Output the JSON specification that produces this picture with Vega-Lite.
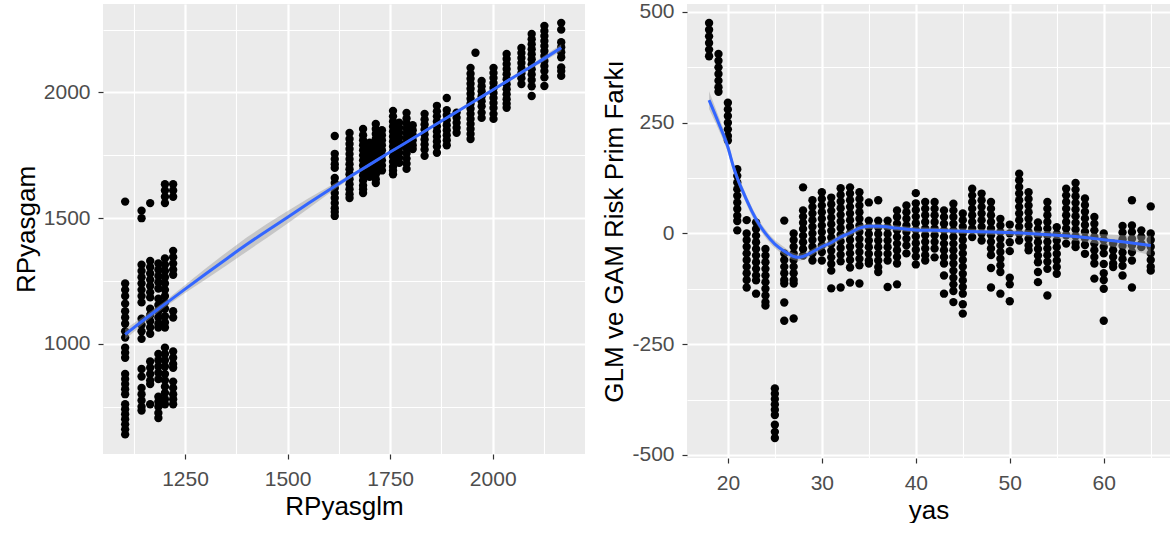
{
  "$schema": "https://vega.github.io/schema/vega-lite/v6.json",
  "padding": {"left": 13, "top": 0, "right": 0, "bottom": 0},
  "spacing": 16,
  "datasets": {
    "glmgam": [
      {"glm":1104,"gam":1566},{"glm":1104,"gam":1240},{"glm":1104,"gam":1215},{"glm":1104,"gam":1190},{"glm":1104,"gam":1160},{"glm":1104,"gam":1130},{"glm":1104,"gam":1105},{"glm":1104,"gam":1080},{"glm":1104,"gam":1050},{"glm":1104,"gam":1025},{"glm":1104,"gam":985},{"glm":1104,"gam":965},{"glm":1104,"gam":945},{"glm":1104,"gam":880},{"glm":1104,"gam":860},{"glm":1104,"gam":840},{"glm":1104,"gam":820},{"glm":1104,"gam":800},{"glm":1104,"gam":760},{"glm":1104,"gam":740},{"glm":1104,"gam":720},{"glm":1104,"gam":700},{"glm":1104,"gam":680},{"glm":1104,"gam":660},{"glm":1104,"gam":640},
      {"glm":1144,"gam":1530},{"glm":1144,"gam":1500},{"glm":1144,"gam":1315},{"glm":1144,"gam":1290},{"glm":1144,"gam":1265},{"glm":1144,"gam":1240},{"glm":1144,"gam":1215},{"glm":1144,"gam":1190},{"glm":1144,"gam":1165},{"glm":1144,"gam":1100},{"glm":1144,"gam":1075},{"glm":1144,"gam":1050},{"glm":1144,"gam":1020},{"glm":1144,"gam":900},{"glm":1144,"gam":870},{"glm":1144,"gam":825},{"glm":1144,"gam":800},{"glm":1144,"gam":775},{"glm":1144,"gam":750},{"glm":1144,"gam":735},
      {"glm":1165,"gam":1560},{"glm":1165,"gam":1330},{"glm":1165,"gam":1305},{"glm":1165,"gam":1280},{"glm":1165,"gam":1255},{"glm":1165,"gam":1230},{"glm":1165,"gam":1205},{"glm":1165,"gam":1185},{"glm":1165,"gam":1140},{"glm":1165,"gam":1115},{"glm":1165,"gam":1090},{"glm":1165,"gam":1065},{"glm":1165,"gam":1040},{"glm":1165,"gam":930},{"glm":1165,"gam":905},{"glm":1165,"gam":880},{"glm":1165,"gam":855},{"glm":1165,"gam":840},{"glm":1165,"gam":760},
      {"glm":1185,"gam":1320},{"glm":1185,"gam":1295},{"glm":1185,"gam":1270},{"glm":1185,"gam":1245},{"glm":1185,"gam":1220},{"glm":1185,"gam":1180},{"glm":1185,"gam":1155},{"glm":1185,"gam":1130},{"glm":1185,"gam":1105},{"glm":1185,"gam":1080},{"glm":1185,"gam":1065},{"glm":1185,"gam":960},{"glm":1185,"gam":935},{"glm":1185,"gam":910},{"glm":1185,"gam":885},{"glm":1185,"gam":860},{"glm":1185,"gam":790},{"glm":1185,"gam":770},{"glm":1185,"gam":750},{"glm":1185,"gam":725},{"glm":1185,"gam":705},
      {"glm":1201,"gam":1635},{"glm":1201,"gam":1610},{"glm":1201,"gam":1585},{"glm":1201,"gam":1560},{"glm":1201,"gam":1340},{"glm":1201,"gam":1315},{"glm":1201,"gam":1290},{"glm":1201,"gam":1265},{"glm":1201,"gam":1240},{"glm":1201,"gam":1215},{"glm":1201,"gam":1190},{"glm":1201,"gam":1165},{"glm":1201,"gam":1140},{"glm":1201,"gam":1110},{"glm":1201,"gam":1085},{"glm":1201,"gam":1065},{"glm":1201,"gam":985},{"glm":1201,"gam":960},{"glm":1201,"gam":935},{"glm":1201,"gam":910},{"glm":1201,"gam":880},{"glm":1201,"gam":855},{"glm":1201,"gam":830},{"glm":1201,"gam":805},{"glm":1201,"gam":780},{"glm":1201,"gam":760},
      {"glm":1221,"gam":1635},{"glm":1221,"gam":1610},{"glm":1221,"gam":1585},{"glm":1221,"gam":1370},{"glm":1221,"gam":1345},{"glm":1221,"gam":1320},{"glm":1221,"gam":1295},{"glm":1221,"gam":1275},{"glm":1221,"gam":1130},{"glm":1221,"gam":1105},{"glm":1221,"gam":970},{"glm":1221,"gam":945},{"glm":1221,"gam":920},{"glm":1221,"gam":905},{"glm":1221,"gam":850},{"glm":1221,"gam":825},{"glm":1221,"gam":800},{"glm":1221,"gam":780},{"glm":1221,"gam":760},
      {"glm":1615,"gam":1827},{"glm":1615,"gam":1756},{"glm":1615,"gam":1735},{"glm":1615,"gam":1715},{"glm":1615,"gam":1700},{"glm":1615,"gam":1660},{"glm":1615,"gam":1640},{"glm":1615,"gam":1620},{"glm":1615,"gam":1600},{"glm":1615,"gam":1580},{"glm":1615,"gam":1560},{"glm":1615,"gam":1540},{"glm":1615,"gam":1525},{"glm":1615,"gam":1509},
      {"glm":1651,"gam":1839},{"glm":1651,"gam":1815},{"glm":1651,"gam":1795},{"glm":1651,"gam":1775},{"glm":1651,"gam":1755},{"glm":1651,"gam":1735},{"glm":1651,"gam":1715},{"glm":1651,"gam":1695},{"glm":1651,"gam":1675},{"glm":1651,"gam":1655},{"glm":1651,"gam":1635},{"glm":1651,"gam":1615},{"glm":1651,"gam":1595},{"glm":1651,"gam":1580},
      {"glm":1684,"gam":1855},{"glm":1684,"gam":1830},{"glm":1684,"gam":1810},{"glm":1684,"gam":1790},{"glm":1684,"gam":1770},{"glm":1684,"gam":1750},{"glm":1684,"gam":1730},{"glm":1684,"gam":1710},{"glm":1684,"gam":1690},{"glm":1684,"gam":1670},{"glm":1684,"gam":1650},{"glm":1684,"gam":1630},{"glm":1684,"gam":1615},{"glm":1684,"gam":1600},
      {"glm":1700,"gam":1800},{"glm":1700,"gam":1780},{"glm":1700,"gam":1760},{"glm":1700,"gam":1740},{"glm":1700,"gam":1720},{"glm":1700,"gam":1700},{"glm":1700,"gam":1680},{"glm":1700,"gam":1665},
      {"glm":1715,"gam":1875},{"glm":1715,"gam":1855},{"glm":1715,"gam":1835},{"glm":1715,"gam":1815},{"glm":1715,"gam":1795},{"glm":1715,"gam":1775},{"glm":1715,"gam":1755},{"glm":1715,"gam":1735},{"glm":1715,"gam":1715},{"glm":1715,"gam":1695},{"glm":1715,"gam":1675},{"glm":1715,"gam":1655},{"glm":1715,"gam":1640},
      {"glm":1730,"gam":1850},{"glm":1730,"gam":1830},{"glm":1730,"gam":1810},{"glm":1730,"gam":1790},{"glm":1730,"gam":1770},{"glm":1730,"gam":1750},{"glm":1730,"gam":1730},{"glm":1730,"gam":1710},{"glm":1730,"gam":1690},
      {"glm":1757,"gam":1927},{"glm":1757,"gam":1905},{"glm":1757,"gam":1885},{"glm":1757,"gam":1865},{"glm":1757,"gam":1845},{"glm":1757,"gam":1825},{"glm":1757,"gam":1805},{"glm":1757,"gam":1785},{"glm":1757,"gam":1765},{"glm":1757,"gam":1745},{"glm":1757,"gam":1725},{"glm":1757,"gam":1705},{"glm":1757,"gam":1690},{"glm":1757,"gam":1675},
      {"glm":1772,"gam":1880},{"glm":1772,"gam":1860},{"glm":1772,"gam":1840},{"glm":1772,"gam":1820},{"glm":1772,"gam":1800},{"glm":1772,"gam":1780},{"glm":1772,"gam":1760},{"glm":1772,"gam":1740},{"glm":1772,"gam":1720},
      {"glm":1790,"gam":1919},{"glm":1790,"gam":1897},{"glm":1790,"gam":1877},{"glm":1790,"gam":1857},{"glm":1790,"gam":1837},{"glm":1790,"gam":1817},{"glm":1790,"gam":1797},{"glm":1790,"gam":1777},{"glm":1790,"gam":1757},{"glm":1790,"gam":1737},{"glm":1790,"gam":1717},{"glm":1790,"gam":1696},
      {"glm":1805,"gam":1870},{"glm":1805,"gam":1850},{"glm":1805,"gam":1830},{"glm":1805,"gam":1810},{"glm":1805,"gam":1790},{"glm":1805,"gam":1775},
      {"glm":1834,"gam":1915},{"glm":1834,"gam":1893},{"glm":1834,"gam":1873},{"glm":1834,"gam":1853},{"glm":1834,"gam":1833},{"glm":1834,"gam":1813},{"glm":1834,"gam":1793},{"glm":1834,"gam":1773},{"glm":1834,"gam":1748},
      {"glm":1864,"gam":1947},{"glm":1864,"gam":1925},{"glm":1864,"gam":1905},{"glm":1864,"gam":1885},{"glm":1864,"gam":1865},{"glm":1864,"gam":1845},{"glm":1864,"gam":1825},{"glm":1864,"gam":1805},{"glm":1864,"gam":1785},{"glm":1864,"gam":1760},
      {"glm":1888,"gam":1978},{"glm":1888,"gam":1930},{"glm":1888,"gam":1910},{"glm":1888,"gam":1890},{"glm":1888,"gam":1870},{"glm":1888,"gam":1850},{"glm":1888,"gam":1830},{"glm":1888,"gam":1810},{"glm":1888,"gam":1790},
      {"glm":1912,"gam":1920},{"glm":1912,"gam":1900},{"glm":1912,"gam":1880},{"glm":1912,"gam":1860},{"glm":1912,"gam":1840},
      {"glm":1946,"gam":2098},{"glm":1946,"gam":2075},{"glm":1946,"gam":2055},{"glm":1946,"gam":2035},{"glm":1946,"gam":2015},{"glm":1946,"gam":1995},{"glm":1946,"gam":1975},{"glm":1946,"gam":1955},{"glm":1946,"gam":1935},{"glm":1946,"gam":1915},{"glm":1946,"gam":1895},{"glm":1946,"gam":1875},{"glm":1946,"gam":1855},{"glm":1946,"gam":1835},{"glm":1946,"gam":1815},
      {"glm":1958,"gam":2158},
      {"glm":1973,"gam":2046},{"glm":1973,"gam":2025},{"glm":1973,"gam":2005},{"glm":1973,"gam":1985},{"glm":1973,"gam":1965},{"glm":1973,"gam":1945},{"glm":1973,"gam":1920},{"glm":1973,"gam":1899},
      {"glm":2002,"gam":2098},{"glm":2002,"gam":2078},{"glm":2002,"gam":2058},{"glm":2002,"gam":2038},{"glm":2002,"gam":2018},{"glm":2002,"gam":1998},{"glm":2002,"gam":1978},{"glm":2002,"gam":1958},{"glm":2002,"gam":1938},{"glm":2002,"gam":1915},{"glm":2002,"gam":1895},
      {"glm":2034,"gam":2153},{"glm":2034,"gam":2133},{"glm":2034,"gam":2113},{"glm":2034,"gam":2093},{"glm":2034,"gam":2073},{"glm":2034,"gam":2053},{"glm":2034,"gam":2033},{"glm":2034,"gam":2013},{"glm":2034,"gam":1993},{"glm":2034,"gam":1973},{"glm":2034,"gam":1955},{"glm":2034,"gam":1939},
      {"glm":2070,"gam":2177},{"glm":2070,"gam":2157},{"glm":2070,"gam":2137},{"glm":2070,"gam":2117},{"glm":2070,"gam":2097},{"glm":2070,"gam":2077},{"glm":2070,"gam":2057},{"glm":2070,"gam":2034},
      {"glm":2095,"gam":2233},{"glm":2095,"gam":2212},{"glm":2095,"gam":2192},{"glm":2095,"gam":2172},{"glm":2095,"gam":2152},{"glm":2095,"gam":2132},{"glm":2095,"gam":2112},{"glm":2095,"gam":2092},{"glm":2095,"gam":2072},{"glm":2095,"gam":2050},{"glm":2095,"gam":2025},{"glm":2095,"gam":1986},
      {"glm":2126,"gam":2265},{"glm":2126,"gam":2245},{"glm":2126,"gam":2225},{"glm":2126,"gam":2205},{"glm":2126,"gam":2185},{"glm":2126,"gam":2165},{"glm":2126,"gam":2145},{"glm":2126,"gam":2125},{"glm":2126,"gam":2105},{"glm":2126,"gam":2085},{"glm":2126,"gam":2060},{"glm":2126,"gam":2026},
      {"glm":2167,"gam":2277},{"glm":2167,"gam":2250},{"glm":2167,"gam":2200},{"glm":2167,"gam":2180},{"glm":2167,"gam":2160},{"glm":2167,"gam":2140},{"glm":2167,"gam":2100},{"glm":2167,"gam":2085},{"glm":2167,"gam":2066}
    ],
    "glmgamFit": [
      {"glm":1104,"gam":1038,"lo":1018,"hi":1058},
      {"glm":1150,"gam":1096,"lo":1081,"hi":1111},
      {"glm":1200,"gam":1157,"lo":1145,"hi":1169},
      {"glm":1250,"gam":1218,"lo":1202,"hi":1234},
      {"glm":1300,"gam":1278,"lo":1256,"hi":1300},
      {"glm":1350,"gam":1337,"lo":1311,"hi":1363},
      {"glm":1400,"gam":1395,"lo":1367,"hi":1423},
      {"glm":1450,"gam":1450,"lo":1422,"hi":1478},
      {"glm":1500,"gam":1504,"lo":1479,"hi":1529},
      {"glm":1550,"gam":1558,"lo":1538,"hi":1578},
      {"glm":1600,"gam":1611,"lo":1597,"hi":1625},
      {"glm":1650,"gam":1663,"lo":1655,"hi":1671},
      {"glm":1700,"gam":1713,"lo":1707,"hi":1719},
      {"glm":1750,"gam":1763,"lo":1758,"hi":1768},
      {"glm":1800,"gam":1812,"lo":1807,"hi":1817},
      {"glm":1850,"gam":1862,"lo":1857,"hi":1867},
      {"glm":1900,"gam":1911,"lo":1906,"hi":1916},
      {"glm":1950,"gam":1960,"lo":1954,"hi":1966},
      {"glm":2000,"gam":2010,"lo":2004,"hi":2016},
      {"glm":2050,"gam":2060,"lo":2053,"hi":2067},
      {"glm":2100,"gam":2109,"lo":2100,"hi":2118},
      {"glm":2167,"gam":2178,"lo":2164,"hi":2192}
    ],
    "yasfark": [
      {"yas":18,"fark":475},{"yas":18,"fark":460},{"yas":18,"fark":445},{"yas":18,"fark":430},{"yas":18,"fark":415},{"yas":18,"fark":400},
      {"yas":19,"fark":405},{"yas":19,"fark":390},{"yas":19,"fark":375},{"yas":19,"fark":360},{"yas":19,"fark":345},{"yas":19,"fark":330},{"yas":19,"fark":320},
      {"yas":20,"fark":295},{"yas":20,"fark":280},{"yas":20,"fark":265},{"yas":20,"fark":250},{"yas":20,"fark":235},{"yas":20,"fark":220},{"yas":20,"fark":210},
      {"yas":21,"fark":145},{"yas":21,"fark":130},{"yas":21,"fark":115},{"yas":21,"fark":100},{"yas":21,"fark":85},{"yas":21,"fark":70},{"yas":21,"fark":55},{"yas":21,"fark":40},{"yas":21,"fark":28},{"yas":21,"fark":7},
      {"yas":22,"fark":30},{"yas":22,"fark":0},{"yas":22,"fark":-15},{"yas":22,"fark":-30},{"yas":22,"fark":-45},{"yas":22,"fark":-60},{"yas":22,"fark":-75},{"yas":22,"fark":-90},{"yas":22,"fark":-105},{"yas":22,"fark":-122},
      {"yas":23,"fark":25},{"yas":23,"fark":10},{"yas":23,"fark":-5},{"yas":23,"fark":-20},{"yas":23,"fark":-35},{"yas":23,"fark":-50},{"yas":23,"fark":-65},{"yas":23,"fark":-80},{"yas":23,"fark":-95},{"yas":23,"fark":-106},{"yas":23,"fark":-136},
      {"yas":24,"fark":-35},{"yas":24,"fark":-50},{"yas":24,"fark":-65},{"yas":24,"fark":-80},{"yas":24,"fark":-95},{"yas":24,"fark":-110},{"yas":24,"fark":-125},{"yas":24,"fark":-140},{"yas":24,"fark":-155},{"yas":24,"fark":-163},
      {"yas":25,"fark":-350},{"yas":25,"fark":-362},{"yas":25,"fark":-374},{"yas":25,"fark":-386},{"yas":25,"fark":-398},{"yas":25,"fark":-410},{"yas":25,"fark":-432},{"yas":25,"fark":-448},{"yas":25,"fark":-462},
      {"yas":26,"fark":29},{"yas":26,"fark":-45},{"yas":26,"fark":-60},{"yas":26,"fark":-75},{"yas":26,"fark":-90},{"yas":26,"fark":-105},{"yas":26,"fark":-113},{"yas":26,"fark":-156},{"yas":26,"fark":-197},
      {"yas":27,"fark":0},{"yas":27,"fark":-15},{"yas":27,"fark":-30},{"yas":27,"fark":-45},{"yas":27,"fark":-60},{"yas":27,"fark":-75},{"yas":27,"fark":-90},{"yas":27,"fark":-105},{"yas":27,"fark":-113},{"yas":27,"fark":-192},
      {"yas":28,"fark":104},{"yas":28,"fark":52},{"yas":28,"fark":38},{"yas":28,"fark":24},{"yas":28,"fark":10},{"yas":28,"fark":-5},{"yas":28,"fark":-20},{"yas":28,"fark":-35},{"yas":28,"fark":-50},
      {"yas":29,"fark":75},{"yas":29,"fark":60},{"yas":29,"fark":45},{"yas":29,"fark":30},{"yas":29,"fark":15},{"yas":29,"fark":0},{"yas":29,"fark":-15},{"yas":29,"fark":-30},{"yas":29,"fark":-45},{"yas":29,"fark":-61},
      {"yas":30,"fark":93},{"yas":30,"fark":78},{"yas":30,"fark":63},{"yas":30,"fark":48},{"yas":30,"fark":33},{"yas":30,"fark":18},{"yas":30,"fark":3},{"yas":30,"fark":-12},{"yas":30,"fark":-27},{"yas":30,"fark":-42},{"yas":30,"fark":-61},
      {"yas":31,"fark":81},{"yas":31,"fark":66},{"yas":31,"fark":51},{"yas":31,"fark":36},{"yas":31,"fark":21},{"yas":31,"fark":6},{"yas":31,"fark":-9},{"yas":31,"fark":-24},{"yas":31,"fark":-39},{"yas":31,"fark":-54},{"yas":31,"fark":-69},{"yas":31,"fark":-84},{"yas":31,"fark":-124},
      {"yas":32,"fark":102},{"yas":32,"fark":87},{"yas":32,"fark":72},{"yas":32,"fark":57},{"yas":32,"fark":42},{"yas":32,"fark":27},{"yas":32,"fark":12},{"yas":32,"fark":-3},{"yas":32,"fark":-18},{"yas":32,"fark":-33},{"yas":32,"fark":-48},{"yas":32,"fark":-63},{"yas":32,"fark":-122},
      {"yas":33,"fark":104},{"yas":33,"fark":90},{"yas":33,"fark":75},{"yas":33,"fark":60},{"yas":33,"fark":45},{"yas":33,"fark":30},{"yas":33,"fark":15},{"yas":33,"fark":0},{"yas":33,"fark":-15},{"yas":33,"fark":-30},{"yas":33,"fark":-45},{"yas":33,"fark":-60},{"yas":33,"fark":-77},{"yas":33,"fark":-111},
      {"yas":34,"fark":93},{"yas":34,"fark":78},{"yas":34,"fark":63},{"yas":34,"fark":48},{"yas":34,"fark":33},{"yas":34,"fark":18},{"yas":34,"fark":3},{"yas":34,"fark":-12},{"yas":34,"fark":-27},{"yas":34,"fark":-42},{"yas":34,"fark":-57},{"yas":34,"fark":-72},{"yas":34,"fark":-113},
      {"yas":35,"fark":70},{"yas":35,"fark":29},{"yas":35,"fark":14},{"yas":35,"fark":-1},{"yas":35,"fark":-16},{"yas":35,"fark":-31},{"yas":35,"fark":-46},{"yas":35,"fark":-61},{"yas":35,"fark":-68},
      {"yas":36,"fark":75},{"yas":36,"fark":29},{"yas":36,"fark":14},{"yas":36,"fark":-1},{"yas":36,"fark":-16},{"yas":36,"fark":-31},{"yas":36,"fark":-46},{"yas":36,"fark":-61},{"yas":36,"fark":-76},{"yas":36,"fark":-87},
      {"yas":37,"fark":29},{"yas":37,"fark":14},{"yas":37,"fark":-1},{"yas":37,"fark":-16},{"yas":37,"fark":-31},{"yas":37,"fark":-46},{"yas":37,"fark":-61},{"yas":37,"fark":-121},
      {"yas":38,"fark":52},{"yas":38,"fark":37},{"yas":38,"fark":22},{"yas":38,"fark":7},{"yas":38,"fark":-8},{"yas":38,"fark":-23},{"yas":38,"fark":-38},{"yas":38,"fark":-53},{"yas":38,"fark":-68},{"yas":38,"fark":-115},
      {"yas":39,"fark":63},{"yas":39,"fark":48},{"yas":39,"fark":33},{"yas":39,"fark":18},{"yas":39,"fark":3},{"yas":39,"fark":-12},{"yas":39,"fark":-27},{"yas":39,"fark":-45},
      {"yas":40,"fark":91},{"yas":40,"fark":68},{"yas":40,"fark":53},{"yas":40,"fark":38},{"yas":40,"fark":23},{"yas":40,"fark":8},{"yas":40,"fark":-7},{"yas":40,"fark":-22},{"yas":40,"fark":-37},{"yas":40,"fark":-52},{"yas":40,"fark":-70},
      {"yas":41,"fark":71},{"yas":41,"fark":56},{"yas":41,"fark":41},{"yas":41,"fark":26},{"yas":41,"fark":11},{"yas":41,"fark":-4},{"yas":41,"fark":-19},{"yas":41,"fark":-34},{"yas":41,"fark":-49},{"yas":41,"fark":-61},
      {"yas":42,"fark":71},{"yas":42,"fark":56},{"yas":42,"fark":41},{"yas":42,"fark":26},{"yas":42,"fark":11},{"yas":42,"fark":-4},{"yas":42,"fark":-19},{"yas":42,"fark":-34},{"yas":42,"fark":-54},
      {"yas":43,"fark":52},{"yas":43,"fark":37},{"yas":43,"fark":22},{"yas":43,"fark":7},{"yas":43,"fark":-8},{"yas":43,"fark":-23},{"yas":43,"fark":-38},{"yas":43,"fark":-53},{"yas":43,"fark":-68},{"yas":43,"fark":-95},{"yas":43,"fark":-136},
      {"yas":44,"fark":67},{"yas":44,"fark":52},{"yas":44,"fark":37},{"yas":44,"fark":22},{"yas":44,"fark":7},{"yas":44,"fark":-8},{"yas":44,"fark":-23},{"yas":44,"fark":-38},{"yas":44,"fark":-53},{"yas":44,"fark":-68},{"yas":44,"fark":-84},{"yas":44,"fark":-100},{"yas":44,"fark":-115},{"yas":44,"fark":-130},{"yas":44,"fark":-155},
      {"yas":45,"fark":45},{"yas":45,"fark":30},{"yas":45,"fark":15},{"yas":45,"fark":0},{"yas":45,"fark":-15},{"yas":45,"fark":-30},{"yas":45,"fark":-45},{"yas":45,"fark":-60},{"yas":45,"fark":-75},{"yas":45,"fark":-91},{"yas":45,"fark":-106},{"yas":45,"fark":-121},{"yas":45,"fark":-136},{"yas":45,"fark":-160},{"yas":45,"fark":-181},
      {"yas":46,"fark":101},{"yas":46,"fark":86},{"yas":46,"fark":71},{"yas":46,"fark":56},{"yas":46,"fark":41},{"yas":46,"fark":26},{"yas":46,"fark":11},{"yas":46,"fark":-8},
      {"yas":47,"fark":90},{"yas":47,"fark":75},{"yas":47,"fark":60},{"yas":47,"fark":45},{"yas":47,"fark":30},{"yas":47,"fark":15},{"yas":47,"fark":0},{"yas":47,"fark":-16},
      {"yas":48,"fark":71},{"yas":48,"fark":56},{"yas":48,"fark":41},{"yas":48,"fark":26},{"yas":48,"fark":11},{"yas":48,"fark":-4},{"yas":48,"fark":-19},{"yas":48,"fark":-34},{"yas":48,"fark":-49},{"yas":48,"fark":-78},{"yas":48,"fark":-122},
      {"yas":49,"fark":33},{"yas":49,"fark":18},{"yas":49,"fark":3},{"yas":49,"fark":-12},{"yas":49,"fark":-27},{"yas":49,"fark":-42},{"yas":49,"fark":-57},{"yas":49,"fark":-72},{"yas":49,"fark":-87},{"yas":49,"fark":-136},
      {"yas":50,"fark":20},{"yas":50,"fark":0},{"yas":50,"fark":-20},{"yas":50,"fark":-40},{"yas":50,"fark":-100},{"yas":50,"fark":-115},{"yas":50,"fark":-153},
      {"yas":51,"fark":135},{"yas":51,"fark":120},{"yas":51,"fark":105},{"yas":51,"fark":90},{"yas":51,"fark":75},{"yas":51,"fark":60},{"yas":51,"fark":45},{"yas":51,"fark":30},{"yas":51,"fark":15},{"yas":51,"fark":0},{"yas":51,"fark":-16},
      {"yas":52,"fark":93},{"yas":52,"fark":78},{"yas":52,"fark":63},{"yas":52,"fark":48},{"yas":52,"fark":33},{"yas":52,"fark":18},{"yas":52,"fark":3},{"yas":52,"fark":-12},{"yas":52,"fark":-27},{"yas":52,"fark":-38},
      {"yas":53,"fark":25},{"yas":53,"fark":10},{"yas":53,"fark":-5},{"yas":53,"fark":-20},{"yas":53,"fark":-35},{"yas":53,"fark":-50},{"yas":53,"fark":-65},{"yas":53,"fark":-87},{"yas":53,"fark":-110},
      {"yas":54,"fark":71},{"yas":54,"fark":56},{"yas":54,"fark":41},{"yas":54,"fark":26},{"yas":54,"fark":11},{"yas":54,"fark":-4},{"yas":54,"fark":-19},{"yas":54,"fark":-34},{"yas":54,"fark":-49},{"yas":54,"fark":-64},{"yas":54,"fark":-80},{"yas":54,"fark":-140},
      {"yas":55,"fark":14},{"yas":55,"fark":-1},{"yas":55,"fark":-16},{"yas":55,"fark":-31},{"yas":55,"fark":-46},{"yas":55,"fark":-61},{"yas":55,"fark":-76},{"yas":55,"fark":-91},
      {"yas":56,"fark":101},{"yas":56,"fark":86},{"yas":56,"fark":71},{"yas":56,"fark":56},{"yas":56,"fark":41},{"yas":56,"fark":26},{"yas":56,"fark":11},{"yas":56,"fark":-4},{"yas":56,"fark":-23},
      {"yas":57,"fark":114},{"yas":57,"fark":99},{"yas":57,"fark":84},{"yas":57,"fark":69},{"yas":57,"fark":54},{"yas":57,"fark":39},{"yas":57,"fark":24},{"yas":57,"fark":9},{"yas":57,"fark":-6},{"yas":57,"fark":-21},{"yas":57,"fark":-31},
      {"yas":58,"fark":79},{"yas":58,"fark":64},{"yas":58,"fark":49},{"yas":58,"fark":34},{"yas":58,"fark":19},{"yas":58,"fark":4},{"yas":58,"fark":-11},{"yas":58,"fark":-26},{"yas":58,"fark":-46},
      {"yas":59,"fark":37},{"yas":59,"fark":22},{"yas":59,"fark":7},{"yas":59,"fark":-8},{"yas":59,"fark":-23},{"yas":59,"fark":-38},{"yas":59,"fark":-53},{"yas":59,"fark":-68},{"yas":59,"fark":-102},
      {"yas":60,"fark":0},{"yas":60,"fark":-15},{"yas":60,"fark":-30},{"yas":60,"fark":-45},{"yas":60,"fark":-69},{"yas":60,"fark":-90},{"yas":60,"fark":-105},{"yas":60,"fark":-125},{"yas":60,"fark":-197},
      {"yas":61,"fark":-23},{"yas":61,"fark":-38},{"yas":61,"fark":-53},{"yas":61,"fark":-68},{"yas":61,"fark":-76},
      {"yas":62,"fark":17},{"yas":62,"fark":2},{"yas":62,"fark":-13},{"yas":62,"fark":-28},{"yas":62,"fark":-43},{"yas":62,"fark":-58},{"yas":62,"fark":-73},{"yas":62,"fark":-95},
      {"yas":63,"fark":75},{"yas":63,"fark":18},{"yas":63,"fark":3},{"yas":63,"fark":-12},{"yas":63,"fark":-27},{"yas":63,"fark":-42},{"yas":63,"fark":-61},{"yas":63,"fark":-122},
      {"yas":64,"fark":7},{"yas":64,"fark":-8},{"yas":64,"fark":-23},{"yas":64,"fark":-31},
      {"yas":65,"fark":61},{"yas":65,"fark":0},{"yas":65,"fark":-15},{"yas":65,"fark":-30},{"yas":65,"fark":-45},{"yas":65,"fark":-60},{"yas":65,"fark":-75},{"yas":65,"fark":-84}
    ],
    "yasfarkFit": [
      {"yas":18,"fark":301,"lo":281,"hi":321},
      {"yas":19,"fark":250,"lo":235,"hi":265},
      {"yas":20,"fark":195,"lo":183,"hi":207},
      {"yas":20.6,"fark":150,"lo":139,"hi":161},
      {"yas":21,"fark":125,"lo":115,"hi":135},
      {"yas":21.7,"fark":90,"lo":80,"hi":100},
      {"yas":22,"fark":75,"lo":65,"hi":85},
      {"yas":23,"fark":32,"lo":23,"hi":41},
      {"yas":24,"fark":0,"lo":-9,"hi":9},
      {"yas":25,"fark":-24,"lo":-33,"hi":-15},
      {"yas":26,"fark":-40,"lo":-49,"hi":-31},
      {"yas":27,"fark":-52,"lo":-60,"hi":-44},
      {"yas":27.5,"fark":-54,"lo":-62,"hi":-46},
      {"yas":28,"fark":-52,"lo":-60,"hi":-44},
      {"yas":29,"fark":-42,"lo":-49,"hi":-35},
      {"yas":30,"fark":-30,"lo":-37,"hi":-23},
      {"yas":31,"fark":-21,"lo":-28,"hi":-14},
      {"yas":32,"fark":-8,"lo":-15,"hi":-1},
      {"yas":33,"fark":1,"lo":-6,"hi":8},
      {"yas":34,"fark":12,"lo":5,"hi":19},
      {"yas":35,"fark":16,"lo":10,"hi":22},
      {"yas":36,"fark":16,"lo":10,"hi":22},
      {"yas":38,"fark":12,"lo":6,"hi":18},
      {"yas":40,"fark":8,"lo":2,"hi":14},
      {"yas":42,"fark":7,"lo":1,"hi":13},
      {"yas":45,"fark":5,"lo":-1,"hi":11},
      {"yas":48,"fark":3,"lo":-3,"hi":9},
      {"yas":50,"fark":2,"lo":-5,"hi":9},
      {"yas":52,"fark":0,"lo":-7,"hi":7},
      {"yas":55,"fark":-4,"lo":-12,"hi":4},
      {"yas":58,"fark":-9,"lo":-19,"hi":1},
      {"yas":60,"fark":-14,"lo":-26,"hi":-2},
      {"yas":62,"fark":-19,"lo":-34,"hi":-4},
      {"yas":65,"fark":-27,"lo":-49,"hi":-5}
    ]
  },
  "hconcat": [
    {
      "width": 482,
      "height": 450,
      "encoding": {
        "x": {
          "field": "glm",
          "type": "quantitative",
          "title": "RPyasglm",
          "scale": {"domain": [1050, 2225], "nice": false, "zero": false},
          "axis": {
            "values": [1125, 1250, 1375, 1500, 1625, 1750, 1875, 2000, 2125],
            "labelExpr": "datum.value % 250 === 0 ? '' + datum.value : ''",
            "gridWidth": {"condition": {"test": "datum.value % 250 === 0", "value": 2.2}, "value": 1.1},
            "tickOpacity": {"condition": {"test": "datum.value % 250 === 0", "value": 1}, "value": 0}
          }
        }
      },
      "layer": [
        {
          "data": {"name": "glmgam"},
          "mark": {"type": "circle", "size": 70, "color": "#000000", "opacity": 1},
          "encoding": {
            "y": {
              "field": "gam",
              "type": "quantitative",
              "title": "RPyasgam",
              "scale": {"domain": [562, 2352], "nice": false, "zero": false},
              "axis": {
                "values": [750, 1000, 1250, 1500, 1750, 2000, 2250],
                "labelExpr": "datum.value % 500 === 0 ? '' + datum.value : ''",
                "gridWidth": {"condition": {"test": "datum.value % 500 === 0", "value": 2.2}, "value": 1.1},
                "tickOpacity": {"condition": {"test": "datum.value % 500 === 0", "value": 1}, "value": 0}
              }
            }
          }
        },
        {
          "data": {"name": "glmgamFit"},
          "mark": {"type": "area", "color": "#999999", "opacity": 0.45},
          "encoding": {
            "y": {"field": "lo", "type": "quantitative", "title": "RPyasgam"},
            "y2": {"field": "hi"}
          }
        },
        {
          "data": {"name": "glmgamFit"},
          "mark": {"type": "line", "color": "#3366FF", "strokeWidth": 3, "interpolate": "monotone"},
          "encoding": {
            "y": {"field": "gam", "type": "quantitative", "title": "RPyasgam"}
          }
        }
      ]
    },
    {
      "width": 483,
      "height": 454,
      "encoding": {
        "x": {
          "field": "yas",
          "type": "quantitative",
          "title": "yas",
          "scale": {"domain": [15.65, 67.05], "nice": false, "zero": false},
          "axis": {
            "values": [20, 25, 30, 35, 40, 45, 50, 55, 60, 65],
            "labelExpr": "datum.value % 10 === 0 ? '' + datum.value : ''",
            "gridWidth": {"condition": {"test": "datum.value % 10 === 0", "value": 2.2}, "value": 1.1},
            "tickOpacity": {"condition": {"test": "datum.value % 10 === 0", "value": 1}, "value": 0}
          }
        }
      },
      "layer": [
        {
          "data": {"name": "yasfark"},
          "mark": {"type": "circle", "size": 70, "color": "#000000", "opacity": 1},
          "encoding": {
            "y": {
              "field": "fark",
              "type": "quantitative",
              "title": "GLM ve GAM Risk Prim Farkı",
              "scale": {"domain": [-507, 518], "nice": false, "zero": false},
              "axis": {
                "values": [-500, -375, -250, -125, 0, 125, 250, 375, 500],
                "labelExpr": "datum.value % 250 === 0 ? '' + datum.value : ''",
                "gridWidth": {"condition": {"test": "datum.value % 250 === 0", "value": 2.2}, "value": 1.1},
                "tickOpacity": {"condition": {"test": "datum.value % 250 === 0", "value": 1}, "value": 0}
              }
            }
          }
        },
        {
          "data": {"name": "yasfarkFit"},
          "mark": {"type": "area", "color": "#999999", "opacity": 0.45, "interpolate": "monotone"},
          "encoding": {
            "y": {"field": "lo", "type": "quantitative", "title": "GLM ve GAM Risk Prim Farkı"},
            "y2": {"field": "hi"}
          }
        },
        {
          "data": {"name": "yasfarkFit"},
          "mark": {"type": "line", "color": "#3366FF", "strokeWidth": 3, "interpolate": "monotone"},
          "encoding": {
            "y": {"field": "fark", "type": "quantitative", "title": "GLM ve GAM Risk Prim Farkı"}
          }
        }
      ]
    }
  ],
  "config": {
    "view": {"fill": "#EBEBEB", "stroke": null},
    "font": "Liberation Sans",
    "axis": {
      "domain": false,
      "gridColor": "#FFFFFF",
      "tickColor": "#333333",
      "tickWidth": 1.2,
      "tickSize": 5,
      "labelColor": "#4D4D4D",
      "labelFont": "Liberation Sans",
      "labelFontSize": 21,
      "labelOverlap": false,
      "labelFlush": false,
      "titleFont": "Liberation Sans",
      "titleFontSize": 26,
      "titleFontWeight": "normal",
      "titleColor": "#000000"
    },
    "axisX": {"labelPadding": 9, "titlePadding": 4},
    "axisY": {"labelPadding": 8, "titlePadding": 4}
  }
}
